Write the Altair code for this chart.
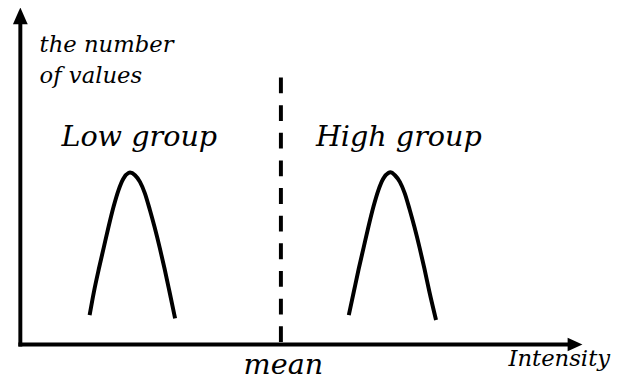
import altair as alt
import pandas as pd

# Curve points (intensity, number of values)
low_x = [70.2, 74.5, 79.5, 84.5, 89.5, 94.5, 99.5, 104.5, 109.5, 111.2,
         116.2, 121.2, 126.2, 131.2, 136.2, 141.2, 146.2, 151.2, 156.8]
low_y = [29.8, 53.2, 76.5, 98.2, 119.8, 139.8, 156.5, 168.2, 173.8, 174.2,
         171.5, 164.8, 153.2, 136.5, 118.2, 98.2, 76.5, 53.2, 26.5]
high_x = [332.8, 337.8, 342.8, 347.8, 352.8, 357.8, 362.8, 367.8, 372.8, 375.2,
          379.5, 384.5, 389.5, 394.5, 399.5, 404.5, 409.5, 414.5, 421.2]
high_y = [29.8, 53.2, 76.5, 98.2, 119.8, 139.8, 156.5, 168.2, 173.8, 174.5,
          171.5, 164.8, 153.2, 136.5, 118.2, 98.2, 76.5, 53.2, 24.8]

mean_x = 264
y_label = ["the number", "of values"]
group_labels = ["Low group", "High group"]
x_label = "Intensity"
mean_label = "mean"

df = pd.DataFrame({
    "x": low_x + high_x,
    "y": low_y + high_y,
    "group": ["Low"] * len(low_x) + ["High"] * len(high_x),
})

xs = alt.Scale(domain=[-12.5, 602.5], nice=False, zero=False)
ys = alt.Scale(domain=[-35.5, 338.5], nice=False, zero=False)

FONT = "DejaVu Serif"

curves = alt.Chart(df).mark_line(
    interpolate="monotone", strokeWidth=4, color="black", strokeCap="butt"
).encode(
    x=alt.X("x:Q", scale=xs, axis=None),
    y=alt.Y("y:Q", scale=ys, axis=None),
    detail="group:N",
)

base = alt.Chart(pd.DataFrame({"a": [0]}))

y_axis = base.mark_rule(strokeWidth=4, color="black").encode(
    x=alt.datum(0, scale=xs), y=alt.datum(-2, scale=ys), y2=alt.datum(325)
)
x_axis = base.mark_rule(strokeWidth=4, color="black").encode(
    x=alt.datum(-2, scale=xs), x2=alt.datum(556), y=alt.datum(0, scale=ys)
)
y_arrow = base.mark_point(
    shape="M0,-1L0.88,1L-0.88,1Z", filled=True, size=289, color="black",
    strokeWidth=0, opacity=1
).encode(x=alt.datum(0), y=alt.datum(333))
x_arrow = base.mark_point(
    shape="M1,0L-1,-0.9L-1,0.9Z", filled=True, size=225, color="black",
    strokeWidth=0, opacity=1
).encode(x=alt.datum(562), y=alt.datum(0))

mean_rule = base.mark_rule(strokeWidth=4, color="black", strokeDash=[16, 12]).encode(
    x=alt.datum(mean_x), y=alt.datum(270.5), y2=alt.datum(2.5)
)

def txt(t, x, y, size, align):
    return base.mark_text(
        text=t, font=FONT, fontStyle="italic", fontSize=size, align=align,
        baseline="alphabetic", color="black"
    ).encode(x=alt.datum(x), y=alt.datum(y))

texts = [
    txt(y_label[0], 19.5, 296.5, 23, "left"),
    txt(y_label[1], 19.5, 264.8, 23, "left"),
    txt(group_labels[0], 120.5, 201.5, 29, "center"),
    txt(group_labels[1], 383.5, 201.5, 29, "center"),
    txt(mean_label, 266.5, -29.5, 29, "center"),
    txt(x_label, 597.5, -21.5, 23, "right"),
]

chart = alt.layer(
    curves, y_axis, x_axis, y_arrow, x_arrow, mean_rule, *texts
).properties(
    width=615, height=374, autosize=alt.AutoSizeParams(type="none"), padding=0
).configure_view(stroke=None)

chart.save("out.html", embed_options={"renderer": "svg", "actions": False})
